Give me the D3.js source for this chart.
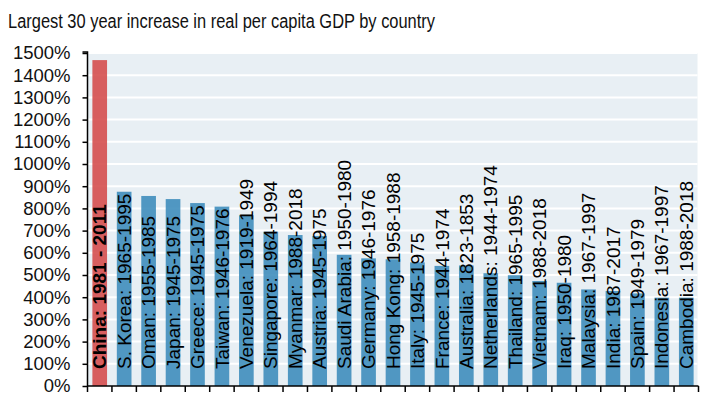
<!DOCTYPE html>
<html>
<head>
<meta charset="utf-8">
<script src="https://cdn.jsdelivr.net/npm/d3@7/dist/d3.min.js"></script>
<style>
  html, body { margin: 0; padding: 0; background: #fff; }
  svg { display: block; font-family: "Liberation Sans", Arial, sans-serif; }
</style>
</head>
<body>
<svg id="chart" width="702" height="402"></svg>
<script>
// Largest 30-year increase in real per capita GDP, by country
const labels = [
  "China: 1981 - 2011", "S. Korea: 1965-1995", "Oman: 1955-1985", "Japan: 1945-1975",
  "Greece: 1945-1975", "Taiwan: 1946-1976", "Venezuela: 1919-1949", "Singapore: 1964-1994",
  "Myanmar: 1988-2018", "Austria: 1945-1975", "Saudi Arabia: 1950-1980", "Germany: 1946-1976",
  "Hong Kong: 1958-1988", "Italy: 1945-1975", "France: 1944-1974", "Australia: 1823-1853",
  "Netherlands: 1944-1974", "Thailand: 1965-1995", "Vietnam: 1988-2018", "Iraq: 1950-1980",
  "Malaysia: 1967-1997", "India: 1987-2017", "Spain: 1949-1979", "Indonesia: 1967-1997",
  "Cambodia: 1988-2018"
];
const increases = [
  1468, 875, 856, 842, 824, 808, 769, 695, 680, 676, 591, 575,
  571, 557, 541, 543, 508, 499, 473, 465, 435, 428, 417, 398, 398
];
const yTicks = [0, 100, 200, 300, 400, 500, 600, 700, 800, 900, 1000, 1100, 1200, 1300, 1400, 1500];
const titleText = "Largest 30 year increase in real per capita GDP by country";

const svg = d3.select("#chart");
const plot = { left: 87.5, right: 698.5, top: 53, bottom: 386 };

const x = d3.scaleBand()
  .domain(labels)
  .range([plot.left, plot.right])
  .paddingInner(0.4)
  .paddingOuter(0.2);

const y = d3.scaleLinear()
  .domain([0, 1500])
  .range([plot.bottom, plot.top]);

// Title
svg.append("text")
  .attr("x", 8)
  .attr("y", 28)
  .attr("font-size", 19.5)
  .attr("textLength", 427)
  .attr("lengthAdjust", "spacingAndGlyphs")
  .attr("fill", "#111")
  .text(titleText);

// Plot background
svg.append("rect")
  .attr("x", plot.left)
  .attr("y", plot.top)
  .attr("width", plot.right - plot.left - 1)
  .attr("height", plot.bottom - plot.top)
  .attr("fill", "#e8eff4");

// Horizontal gridlines
svg.append("g")
  .selectAll("line")
  .data(yTicks.filter(d => d > 0))
  .join("line")
  .attr("x1", plot.left)
  .attr("x2", plot.right - 1)
  .attr("y1", d => y(d))
  .attr("y2", d => y(d))
  .attr("stroke", "#fff")
  .attr("stroke-width", 2);

// Bars
svg.append("g")
  .selectAll("rect")
  .data(labels)
  .join("rect")
  .attr("x", d => x(d))
  .attr("width", x.bandwidth())
  .attr("y", (d, i) => y(increases[i]))
  .attr("height", (d, i) => y(0) - y(increases[i]))
  .attr("fill", (d, i) => i === 0 ? "#d44a4a" : "#3a8bbb")
  .attr("fill-opacity", 0.88);

// Rotated bar labels
svg.append("g")
  .selectAll("text")
  .data(labels)
  .join("text")
  .attr("transform", d => `translate(${x(d) + x.bandwidth() / 2},369) rotate(-90)`)
  .attr("dy", "0.35em")
  .attr("font-size", 19)
  .attr("font-weight", (d, i) => i === 0 ? "bold" : "normal")
  .attr("fill", "#000")
  .text(d => d);

// Y axis
const yAxis = d3.axisLeft(y)
  .tickValues(yTicks)
  .tickSize(5)
  .tickPadding(12)
  .tickFormat(d => d + "%");

svg.append("g")
  .attr("transform", `translate(${plot.left},0)`)
  .call(yAxis)
  .call(g => g.select(".domain").attr("stroke", "#000").attr("stroke-width", 1.5).attr("d", `M-5,${plot.top - 1}H0V${plot.bottom}`))
  .call(g => g.selectAll(".tick line").attr("stroke", "#000").attr("stroke-width", 1.5))
  .call(g => g.selectAll(".tick text").attr("font-size", 18.5).attr("fill", "#111").attr("font-family", "'Liberation Sans', Arial, sans-serif"));

// X axis: ticks at band boundaries
const step = x.step();
const boundaries = d3.range(labels.length + 1).map(i => plot.left + i * step);
const xAxisG = svg.append("g");
xAxisG.append("line")
  .attr("x1", plot.left)
  .attr("x2", plot.right)
  .attr("y1", plot.bottom)
  .attr("y2", plot.bottom)
  .attr("stroke", "#000")
  .attr("stroke-width", 1.5);
xAxisG.selectAll("line.tick")
  .data(boundaries)
  .join("line")
  .attr("class", "tick")
  .attr("x1", d => d)
  .attr("x2", d => d)
  .attr("y1", plot.bottom)
  .attr("y2", plot.bottom + 6)
  .attr("stroke", "#000")
  .attr("stroke-width", 1.5);
</script>
</body>
</html>
